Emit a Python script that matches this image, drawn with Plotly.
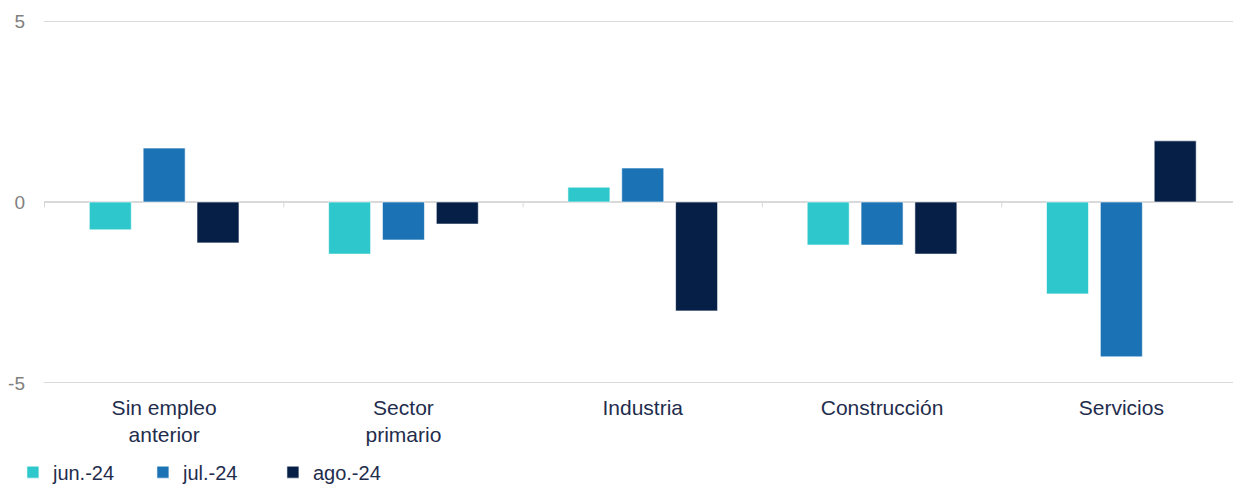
import plotly.graph_objects as go

categories = ["Sin empleo<br>anterior", "Sector<br>primario", "Industria", "Construcción", "Servicios"]
series_names = ["jun.-24", "jul.-24", "ago.-24"]
jun_24 = [-0.77, -1.44, 0.41, -1.19, -2.54]
jul_24 = [1.49, -1.05, 0.94, -1.19, -4.28]
ago_24 = [-1.13, -0.61, -3.01, -1.44, 1.69]
colors = ["#2ec8cc", "#1b72b4", "#061f46"]
y_ticks = [-5, 0, 5]
y_ticktext = ["-5", "0", "5"]

fig = go.Figure()
for name, vals, col in zip(series_names, [jun_24, jul_24, ago_24], colors):
    fig.add_trace(go.Bar(
        x=categories, y=vals, name=name,
        marker=dict(color=col, line=dict(color="rgba(255,255,255,0.6)", width=1)),
    ))

# small category-separator ticks at the zero line
for i in range(len(categories)):
    fig.add_shape(type="line", xref="x", yref="y",
                  x0=i - 0.5, x1=i - 0.5, y0=0, y1=-0.15,
                  line=dict(color="#d9d9d9", width=1))

# page body has an 8px margin, so the figure is sized to fit the window
fig.update_layout(
    width=1233, height=478,
    margin=dict(l=36, r=0, t=12, b=102, autoexpand=False),
    paper_bgcolor="white", plot_bgcolor="white",
    font=dict(family="Liberation Sans, Arial, sans-serif", size=20, color="#1f2d4d"),
    barmode="group", bargap=0.325, bargroupgap=0.22,
    showlegend=True,
    legend=dict(orientation="h", xref="container", yref="container",
                x=0.004, y=0.029, xanchor="left", yanchor="middle",
                font=dict(size=20, color="#1f2d4d"),
                entrywidth=85, itemwidth=30,
                traceorder="normal"),
    xaxis=dict(showgrid=False, showline=False, ticks="",
               tickfont=dict(size=21, color="#1f2d4d"), ticklabelstandoff=9),
    yaxis=dict(range=[-5.03, 5.03], tickvals=y_ticks, ticktext=y_ticktext, showgrid=True,
               gridcolor="#d9d9d9", gridwidth=1,
               zeroline=True, zerolinecolor="#d9d9d9", zerolinewidth=2,
               tickfont=dict(size=19, color="#808080"),
               ticks="", ticklabelstandoff=18),
)

fig.write_html("out.html")
